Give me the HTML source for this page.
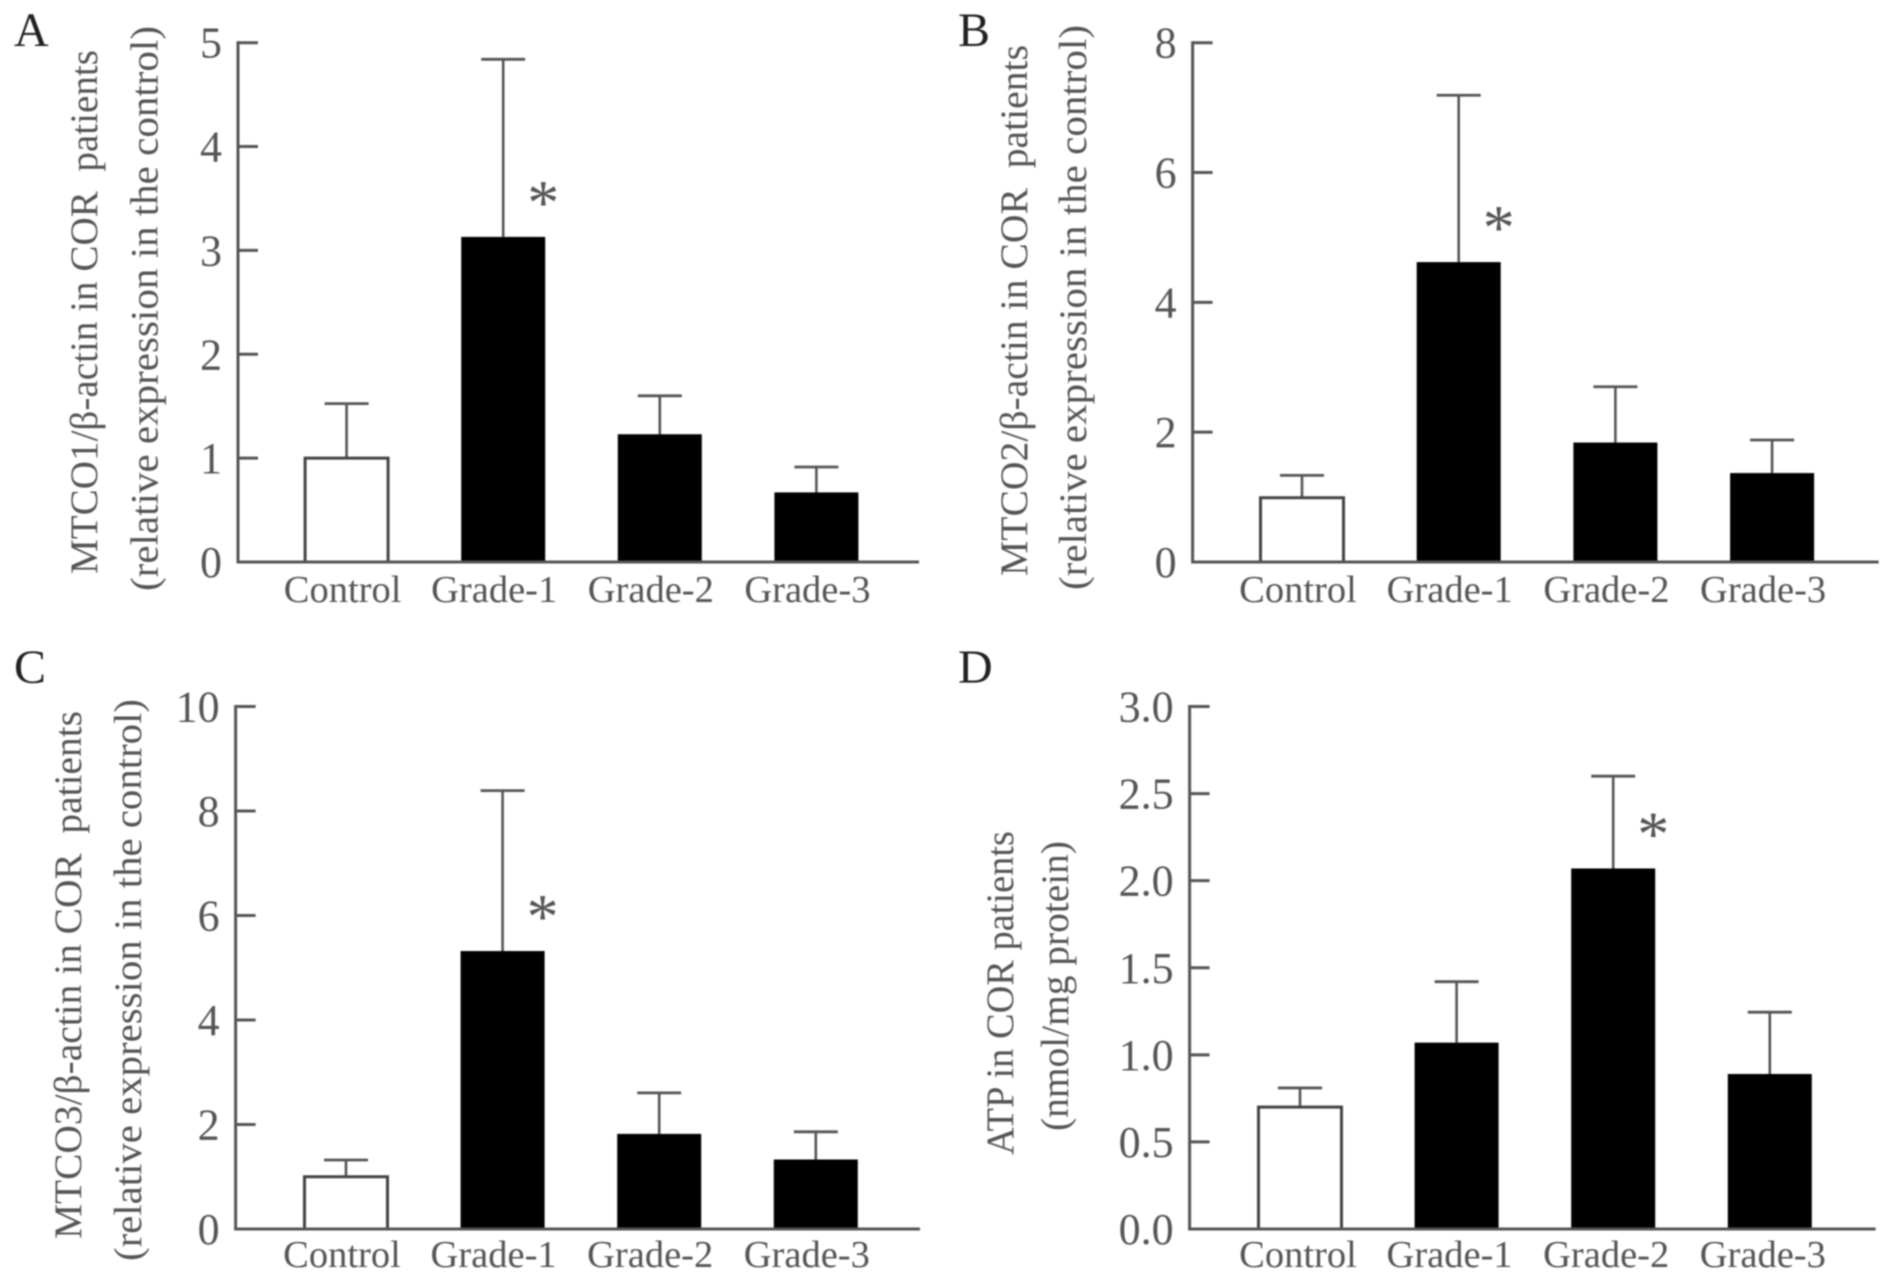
<!DOCTYPE html>
<html lang="en">
<head>
<meta charset="utf-8">
<title>Four-panel bar charts: MTCO1, MTCO2, MTCO3 and ATP in COR patients</title>
<style>
  html, body { margin: 0; padding: 0; background: #fff; }
  #figure { display: block; filter: blur(0.7px); }
  text { font-family: "Liberation Serif", "Noto Serif CJK SC", serif; fill: #555; }
  .panel-letter { font-size: 48px; fill: #222; }
  .axis-title { font-size: 39px; white-space: pre; }
</style>
</head>
<body>
<svg id="figure" xmlns="http://www.w3.org/2000/svg" width="1890" height="1279" viewBox="0 0 1890 1279">
  <rect x="0" y="0" width="1890" height="1279" fill="#fff"/>

  <text class="panel-letter" x="14" y="46">A</text>
  <text class="panel-letter" x="958" y="46">B</text>
  <text class="panel-letter" x="14" y="683">C</text>
  <text class="panel-letter" x="958" y="683">D</text>

  <text class="axis-title" transform="translate(97,574) rotate(-90)" textLength="524" lengthAdjust="spacingAndGlyphs">MTCO1/β-actin in COR  patients</text>
  <text class="axis-title" transform="translate(157.5,591) rotate(-90)" textLength="565" lengthAdjust="spacingAndGlyphs">(relative expression in the control)</text>

  <text class="axis-title" transform="translate(1027,576) rotate(-90)" textLength="531" lengthAdjust="spacingAndGlyphs">MTCO2/β-actin in COR  patients</text>
  <text class="axis-title" transform="translate(1086,590) rotate(-90)" textLength="565" lengthAdjust="spacingAndGlyphs">(relative expression in the control)</text>

  <text class="axis-title" transform="translate(81,1239) rotate(-90)" textLength="528" lengthAdjust="spacingAndGlyphs">MTCO3/β-actin in COR  patients</text>
  <text class="axis-title" transform="translate(141,1261) rotate(-90)" textLength="562" lengthAdjust="spacingAndGlyphs">(relative expression in the control)</text>

  <text class="axis-title" transform="translate(1013,1155) rotate(-90)" textLength="324" lengthAdjust="spacingAndGlyphs">ATP in COR patients</text>
  <text class="axis-title" transform="translate(1068,1131) rotate(-90)" textLength="290" lengthAdjust="spacingAndGlyphs">(nmol/mg protein)</text>
</svg>

<script>
const categories = ['Control', 'Grade-1', 'Grade-2', 'Grade-3'];

const panelAMeans = [1.0, 3.13, 1.23, 0.67];
const panelAErrors = [0.525, 1.71, 0.37, 0.245];
const panelATicks = ['0', '1', '2', '3', '4', '5'];
const panelAStars = [1];

const panelBMeans = [0.99, 4.62, 1.84, 1.37];
const panelBErrors = [0.345, 2.57, 0.86, 0.51];
const panelBTicks = ['0', '2', '4', '6', '8'];
const panelBStars = [1];

const panelCMeans = [1.0, 5.32, 1.82, 1.33];
const panelCErrors = [0.32, 3.07, 0.785, 0.53];
const panelCTicks = ['0', '2', '4', '6', '8', '10'];
const panelCStars = [1];

const panelDMeans = [0.70, 1.07, 2.07, 0.89];
const panelDErrors = [0.11, 0.35, 0.53, 0.355];
const panelDTicks = ['0.0', '0.5', '1.0', '1.5', '2.0', '2.5', '3.0'];
const panelDStars = [2];

const SVG_NS = 'http://www.w3.org/2000/svg';
const figure = document.getElementById('figure');
const AXIS_COLOR = '#555';
const BAR_WIDTH = 84;
const TICK_LENGTH = 20;
const CAP_WIDTH = 44;

function drawPanel(id, means, errors, ticks, stars, frame) {
  const tickValues = ticks.map(Number);
  const yMax = Math.max.apply(null, tickValues);
  const yScale = function (v) {
    return frame.base - (v / yMax) * (frame.base - frame.top);
  };
  const xScale = function (i) {
    return frame.firstCenter + i * frame.step;
  };

  const group = document.createElementNS(SVG_NS, 'g');
  
  
  figure.appendChild(group);

  // error bars sit behind the bars
  categories.forEach(function (cat, i) {
    const cx = xScale(i);
    const yMean = yScale(means[i]);
    const yTop = yScale(means[i] + errors[i]);

    const stem = document.createElementNS(SVG_NS, 'line');
    stem.setAttribute('x1', cx);
    stem.setAttribute('x2', cx);
    stem.setAttribute('y1', yMean);
    stem.setAttribute('y2', yTop);
    stem.setAttribute('stroke', AXIS_COLOR);
    stem.setAttribute('stroke-width', 2.6);
    
    
    group.appendChild(stem);

    const cap = document.createElementNS(SVG_NS, 'line');
    cap.setAttribute('x1', cx - CAP_WIDTH / 2);
    cap.setAttribute('x2', cx + CAP_WIDTH / 2);
    cap.setAttribute('y1', yTop);
    cap.setAttribute('y2', yTop);
    cap.setAttribute('stroke', AXIS_COLOR);
    cap.setAttribute('stroke-width', 2.8);
    
    
    group.appendChild(cap);
  });

  // bars
  categories.forEach(function (cat, i) {
    const cx = xScale(i);
    const y = yScale(means[i]);
    const bar = document.createElementNS(SVG_NS, 'rect');
    if (i === 0) {
      bar.setAttribute('x', cx - BAR_WIDTH / 2 + 0.5);
      bar.setAttribute('width', BAR_WIDTH - 1);
      bar.setAttribute('fill', '#fff');
      bar.setAttribute('stroke', '#444');
      bar.setAttribute('stroke-width', 3);
    } else {
      bar.setAttribute('x', cx - BAR_WIDTH / 2);
      bar.setAttribute('width', BAR_WIDTH);
      bar.setAttribute('fill', '#000');
    }
    bar.setAttribute('y', y);
    bar.setAttribute('height', frame.base - y);
    
    
    group.appendChild(bar);
  });

  // y axis line
  const yAxis = document.createElementNS(SVG_NS, 'line');
  yAxis.setAttribute('x1', frame.axisX);
  yAxis.setAttribute('x2', frame.axisX);
  yAxis.setAttribute('y1', frame.top - 1.5);
  yAxis.setAttribute('y2', frame.base + 1.5);
  yAxis.setAttribute('stroke', AXIS_COLOR);
  yAxis.setAttribute('stroke-width', 3);
  
  
  group.appendChild(yAxis);

  // x axis line
  const xAxis = document.createElementNS(SVG_NS, 'line');
  xAxis.setAttribute('x1', frame.axisX);
  xAxis.setAttribute('x2', frame.right);
  xAxis.setAttribute('y1', frame.base);
  xAxis.setAttribute('y2', frame.base);
  xAxis.setAttribute('stroke', AXIS_COLOR);
  xAxis.setAttribute('stroke-width', 3);
  
  
  group.appendChild(xAxis);

  // y ticks and tick labels
  ticks.forEach(function (label, i) {
    const y = yScale(tickValues[i]);

    const tick = document.createElementNS(SVG_NS, 'line');
    tick.setAttribute('x1', frame.axisX);
    tick.setAttribute('x2', frame.axisX + TICK_LENGTH);
    tick.setAttribute('y1', y);
    tick.setAttribute('y2', y);
    tick.setAttribute('stroke', AXIS_COLOR);
    tick.setAttribute('stroke-width', 3);
    
    
    group.appendChild(tick);

    const text = document.createElementNS(SVG_NS, 'text');
    text.setAttribute('x', frame.axisX - 16);
    text.setAttribute('y', y + 15);
    text.setAttribute('text-anchor', 'end');
    text.setAttribute('font-size', 44);
    
    
    text.textContent = label;
    group.appendChild(text);
  });

  // x category labels
  categories.forEach(function (cat, i) {
    const text = document.createElementNS(SVG_NS, 'text');
    text.setAttribute('x', xScale(i) + (i === 0 ? -4 : -9) + frame.labelShift);
    text.setAttribute('y', frame.base + frame.labelGap);
    text.setAttribute('text-anchor', 'middle');
    text.setAttribute('font-size', 38.5);
    
    
    text.textContent = cat;
    group.appendChild(text);
  });

  // significance stars, placed relative to the flagged bar
  stars.forEach(function (i) {
    const star = document.createElementNS(SVG_NS, 'text');
    star.setAttribute('x', xScale(i) + 40);
    star.setAttribute('y', yScale(means[i]) - 42 + 29);
    star.setAttribute('text-anchor', 'middle');
    star.setAttribute('font-size', 64);
    
    
    star.textContent = '*';
    group.appendChild(star);
  });
}

drawPanel('a', panelAMeans, panelAErrors, panelATicks, panelAStars,
  { axisX: 238, top: 42.7, base: 562, right: 919, firstCenter: 346.6, step: 156.6, labelGap: 40, labelShift: 0 });
drawPanel('b', panelBMeans, panelBErrors, panelBTicks, panelBStars,
  { axisX: 1192.6, top: 42.7, base: 562, right: 1878.6, firstCenter: 1302, step: 156.7, labelGap: 40, labelShift: 0 });
drawPanel('c', panelCMeans, panelCErrors, panelCTicks, panelCStars,
  { axisX: 235.6, top: 706.5, base: 1229, right: 920, firstCenter: 346, step: 156.6, labelGap: 38, labelShift: 0 });
drawPanel('d', panelDMeans, panelDErrors, panelDTicks, panelDStars,
  { axisX: 1189.6, top: 706.5, base: 1229, right: 1875.6, firstCenter: 1300, step: 156.6, labelGap: 38, labelShift: 2 });
</script>
</body>
</html>
